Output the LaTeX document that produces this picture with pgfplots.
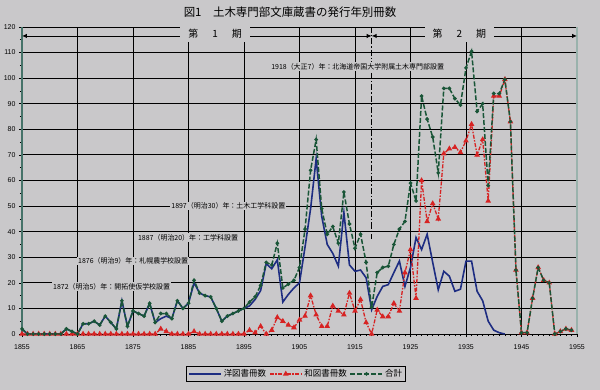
\documentclass[border=0pt]{standalone}
\usepackage{fontspec}
\setmainfont{Liberation Sans}
\newfontfamily\jp{Noto Sans CJK JP}
\usepackage{pgfplots}
\pgfplotsset{compat=1.18}
\usepackage{pgfplotstable}
\usetikzlibrary{arrows.meta}
\definecolor{bg}{RGB}{201,200,202}
\definecolor{cblue}{RGB}{30,45,130}
\definecolor{cred}{RGB}{215,35,35}
\definecolor{cgreen}{RGB}{25,85,55}
\definecolor{tealax}{RGB}{70,115,105}

\pgfplotstableread{
year blue red total
1855 2 0 2
1856 0 0 0
1857 0 0 0
1858 0 0 0
1859 0 0 0
1860 0 0 0
1861 0 0 0
1862 0 0 0
1863 2 0 2
1864 1 0 1
1865 0 0 0
1866 4 0 4
1867 4 0 4
1868 5 0 5
1869 3.5 0 3.5
1870 7 0 7
1871 4.5 0 4.5
1872 2 0 2
1873 13 0 13
1874 3 0 3
1875 9 0 9
1876 8 0 8
1877 7 0 7
1878 12 0 12
1879 4.5 0 4.5
1880 6 2 8
1881 7 1 8
1882 6 0 6
1883 13 0 13
1884 10 0 10
1885 12 0 12
1886 20 1 21
1887 16 0 16
1888 15 0 15
1889 14.5 0 14.5
1890 10 0 10
1891 5 0 5
1892 7 0 7
1893 8 0 8
1894 9 0 9
1895 10 0 10
1896 11 1.5 12.5
1897 13.5 0.5 14.5
1898 17 3 19
1899 27.5 0 28
1900 25.5 1.5 27
1901 29 6.5 35.5
1902 12.5 5 18
1903 15.5 3.5 19.5
1904 18 2.5 21
1905 20 5.5 26
1906 34 7 41
1907 49 15 64
1908 68.5 7.5 76
1909 46 3 49
1910 35 3 39
1911 31.5 11 42
1912 26.5 9 35.5
1913 47.5 7.5 55.5
1914 27 16 43
1915 24.5 9 33.5
1916 25 13.5 39
1917 22 4.5 28
1918 9.5 0 10.5
1919 14.7 9.4 24
1920 18.6 6.8 26
1921 19.3 6.8 26.5
1922 24 12 35
1923 28.5 9 41
1924 18.6 24 44
1925 26 33 59
1926 37.7 14 52
1927 33 60 93
1928 39 44 84
1929 28 51 77
1930 17.3 45 63
1931 24.5 70.5 96
1932 22.6 72.4 96
1933 16.7 73 92
1934 17.5 71 89.5
1935 28.5 75.5 104
1936 28.5 82 110.5
1937 16.7 70 87
1938 13 76 90
1939 5 52 58
1940 1.5 93 94
1941 0.5 93 94
1942 0 99.5 99.5
1943 nan 83 83
1944 nan 25 25
1945 nan 0.5 0.5
1946 nan 0.5 0.5
1947 nan 14 14
1948 nan 26 26
1949 nan 21 21
1950 nan 20 20
1951 nan 0 0
1952 nan 1 1
1953 nan 2 2
1954 nan 1.5 1.5
}\data

\begin{document}
\begin{tikzpicture}
\fill[bg] (-22bp,-56bp) rectangle (578bp,334bp);
\begin{axis}[
  at={(0,0)}, anchor=south west,
  scale only axis, width=555bp, height=307bp,
  xmin=1855, xmax=1955, ymin=0, ymax=120,
  xtick={1855,1865,...,1955}, ytick={0,10,...,120},
  minor x tick num=9, minor y tick num=1,
  grid=major, major grid style={black, line width=0.9bp},
  axis x line*=bottom, axis y line*=left,
  x axis line style={black, line width=1bp, -},
  y axis line style={tealax, line width=1.3bp, -},
  tick style={black, line width=0.6bp},
  major tick length=3bp, minor tick length=2bp,
  tick align=outside,
  /pgf/number format/1000 sep={},
  /pgf/number format/assume math mode=true,
  ticklabel style={font=\fontsize{7}{8}\selectfont},
  xticklabel style={yshift=-4bp},
  clip=false,
  legend style={at={(0.494,-0.13)}, anchor=center, fill=bg, draw=black,
    line width=0.8bp, font=\jp\fontsize{8.5}{10}\selectfont, inner sep=1.5bp,
    /tikz/every even column/.append style={column sep=1bp}},
  legend columns=3,
  legend image code/.code={\draw[mark repeat=2,mark phase=2,#1] plot coordinates {(0bp,0bp) (16bp,0bp) (32bp,0bp)};},
]
\draw[tealax!55, line width=1.3bp] (axis cs:1955,0) -- (axis cs:1955,120);
\draw[black, line width=1.1bp, dash pattern=on 6bp off 2bp on 1.5bp off 2bp] (axis cs:1918,120) -- (axis cs:1918,37);
\draw[line width=0.9bp, {Latex[length=5bp,width=4.5bp]}-{Latex[length=5bp,width=4.5bp]}] (axis cs:1855,116.5) -- (axis cs:1918,116.5);
\draw[line width=0.9bp, {Latex[length=5bp,width=4.5bp]}-{Latex[length=5bp,width=4.5bp]}] (axis cs:1918,116.5) -- (axis cs:1955,116.5);
\node[fill=bg, inner xsep=8bp, minimum height=17bp, font=\jp\fontsize{10}{12}\selectfont] at (axis cs:1889.8,117.3) {第\hspace{14bp}1\hspace{14bp}期};
\node[fill=bg, inner xsep=8bp, minimum height=17bp, font=\jp\fontsize{10}{12}\selectfont] at (axis cs:1933.8,117.3) {第\hspace{14bp}2\hspace{14bp}期};
\node[anchor=west, fill=bg, inner sep=1bp, font=\jp\fontsize{7}{8}\selectfont] at (axis cs:1899.7,104.5) {1918（大正7）年：北海道帝国大学附属土木専門部設置};
\node[anchor=west, fill=bg, inner sep=1bp, font=\jp\fontsize{7}{8}\selectfont] at (axis cs:1881.7,50) {1897（明治30）年：土木工学科設置};
\node[anchor=west, fill=bg, inner sep=1bp, font=\jp\fontsize{7}{8}\selectfont] at (axis cs:1875.7,37.6) {1887（明治20）年：工学科設置};
\node[anchor=west, fill=bg, inner sep=1bp, font=\jp\fontsize{7}{8}\selectfont] at (axis cs:1864.9,28.5) {1876（明治9）年：札幌農学校設置};
\node[anchor=west, fill=bg, inner sep=1bp, font=\jp\fontsize{7}{8}\selectfont] at (axis cs:1860.4,18.5) {1872（明治5）年：開拓使仮学校設置};
\node[font=\jp\fontsize{11.5}{13}\selectfont] at (rel axis cs:0.483,1.049) {図1　土木専門部文庫蔵書の発行年別冊数};
\addplot[cblue, line width=1.6bp, no marks] table[x=year,y=blue]{\data};
\addplot[cred, line width=1.3bp, dash pattern=on 4bp off 1.5bp on 1.5bp off 1.5bp, mark=triangle*, mark size=2bp, mark options={solid, fill=cred}] table[x=year,y=red]{\data};
\addplot[cgreen, line width=1.5bp, dash pattern=on 5bp off 2bp, mark=*, mark size=1bp, mark options={solid}] table[x=year,y=total]{\data};
\legend{洋図書冊数,和図書冊数,合計}
\end{axis}
\pgfresetboundingbox
\useasboundingbox (-22bp,-56bp) rectangle (578bp,334bp);
\end{tikzpicture}
\end{document}
